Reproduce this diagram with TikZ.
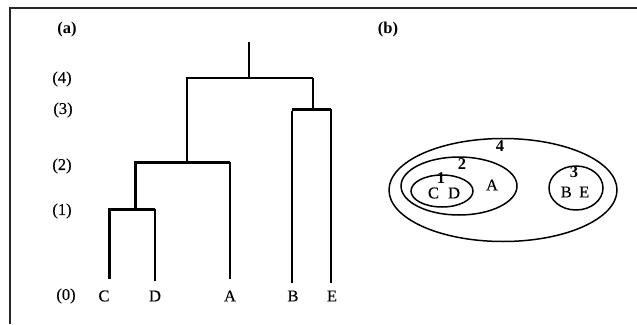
\documentclass[tikz,border=0pt]{standalone}
\usepackage{fontspec}
\setmainfont{Liberation Serif}
\newfontfamily\heavyserif[FakeBold=0.4]{Liberation Serif}
\begin{document}
\begin{tikzpicture}[x=1pt,y=-1pt,
  lbl/.style={font=\fontsize{16.5}{17}\selectfont\heavyserif, inner sep=0pt, anchor=center},
  blbl/.style={font=\fontsize{16.5}{17}\selectfont\bfseries, inner sep=0pt, anchor=center},
  thinln/.style={line width=1.5pt},
  thickln/.style={line width=3pt},
  frame/.style={line width=1.3pt, draw=black!85}]
\useasboundingbox (0,0) rectangle (637,324);
\draw[frame] (10,324) -- (10,8) -- (637,8);
% labels (a)
\node[blbl] (la) at (67,30) {(a)};
\node[lbl] (l4) at (62,79) {(4)};
\node[lbl] (l3) at (63,110) {(3)};
\node[lbl] (l2) at (62,166) {(2)};
\node[lbl] (l1) at (62,211) {(1)};
\node[lbl] (l0) at (66,296) {(0)};
% leaves
\node[lbl] (C) at (104,296) {C};
\node[lbl] (D) at (155,296) {D};
\node[lbl] (A) at (230,296) {A};
\node[lbl] (B) at (293,296) {B};
\node[lbl] (E) at (332,296) {E};
% junction coordinates
\coordinate (top) at (249,42);
\coordinate (j4) at (249,78);
\coordinate (j4l) at (187,78);
\coordinate (j4r) at (313,78);
\coordinate (j3) at (313,109);
\coordinate (j3l) at (292,109);
\coordinate (j3r) at (331,109);
\coordinate (j2) at (187,162);
\coordinate (j2l) at (135,162);
\coordinate (j2r) at (230,162);
\coordinate (j1) at (135,209);
\coordinate (j1l) at (109,209);
\coordinate (j1r) at (155,209);
\coordinate (cC) at (109,279);
\coordinate (cD) at (155,281);
\coordinate (cA) at (230,279);
\coordinate (cB) at (292,283);
\coordinate (cE) at (331,283);
% dendrogram
\draw[thinln] (top) -- (j4);
\draw[thinln] (j2) -- (j4l) -- (j4r);
\draw[thinln] (j4r) -- (j3);
\draw[thinln] (cB) -- ([yshift=-1.5pt]j3l);
\draw[thinln] (j3r) -- (cE);
\draw[thickln] (j3l) -- (j3r);
\draw[thickln] (j1) -- (j2l) -- (j2r);
\draw[thinln] (j2r) -- (cA);
\draw[thickln] (cC) -- (j1l) -- (j1r);
\draw[thinln] (j1r) -- (cD);
% (b)
\node[blbl] (lb) at (388,30) {(b)};
\draw[thinln] (503,190) ellipse [x radius=114, y radius=51.5];
\draw[thinln] (459,186) ellipse [x radius=58, y radius=29];
\draw[thinln] (442,191) ellipse [x radius=31, y radius=16];
\draw[thinln] (576,188) ellipse [x radius=27, y radius=22];
\node[blbl] (n4) at (500,146) {4};
\node[blbl] (n2) at (462,164) {2};
\node[blbl] (n1) at (441,178) {1};
\node[lbl] (nCD) at (444,193) {C\hspace{0.55em}D};
\node[lbl] (nA) at (492,185) {A};
\node[blbl] (n3) at (574,172) {3};
\node[lbl] (nBE) at (575,192) {B\hspace{0.45em}E};
\end{tikzpicture}
\end{document}
